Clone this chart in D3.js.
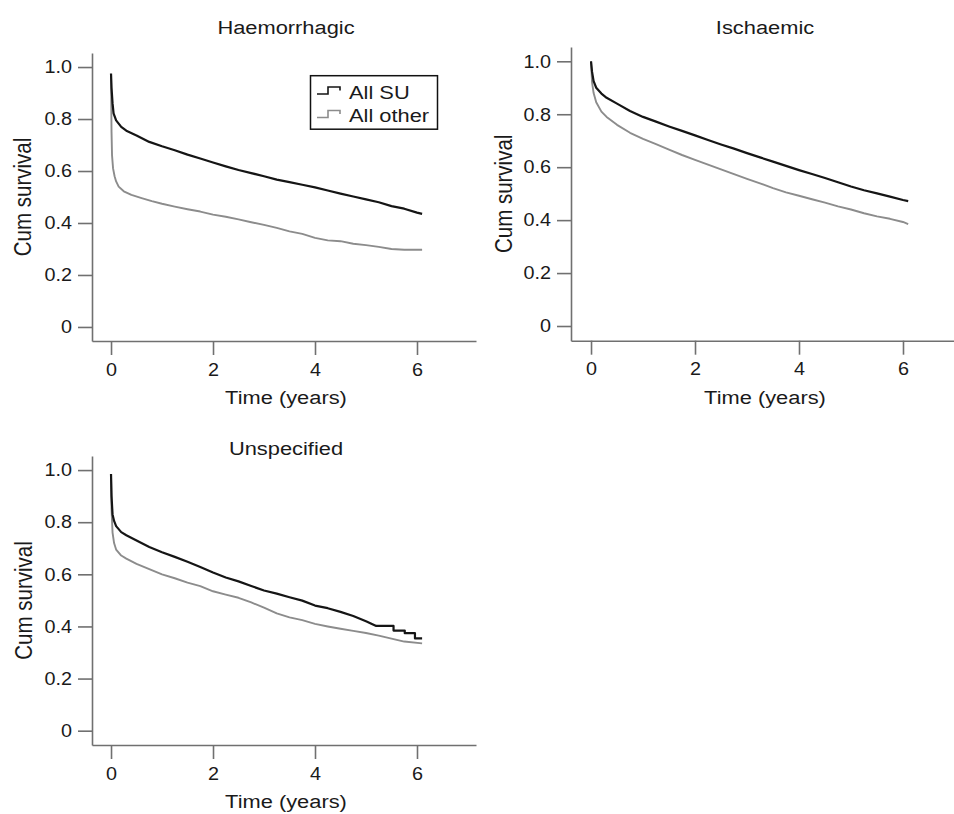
<!DOCTYPE html>
<html>
<head>
<meta charset="utf-8">
<script src="https://cdn.jsdelivr.net/npm/d3@7"></script>
<style>
  body { margin: 0; background: #fff; }
  text { font-family: "Liberation Sans", Arial, sans-serif; fill: #1a1a1a; }
</style>
</head>
<body>
<script>
// Kaplan-Meier estimates: [time in years, cumulative survival]
const haemSU = [[0,0.975],[0.01,0.92],[0.03,0.86],[0.05,0.822],[0.1,0.795],[0.2,0.77],[0.3,0.755],
  [0.5,0.737],[0.75,0.712],[1,0.695],[1.25,0.68],[1.5,0.663],[1.75,0.648],[2,0.633],[2.25,0.618],
  [2.5,0.604],[2.75,0.592],[3,0.58],[3.25,0.567],[3.5,0.557],[3.75,0.547],[4,0.537],[4.25,0.525],
  [4.5,0.513],[4.75,0.502],[5,0.491],[5.25,0.48],[5.5,0.465],[5.75,0.455],[6,0.44],[6.1,0.435]];
const haemOther = [[0,0.97],[0.01,0.75],[0.02,0.66],[0.04,0.61],[0.07,0.58],[0.1,0.56],[0.15,0.54],
  [0.25,0.522],[0.4,0.508],[0.6,0.496],[0.8,0.484],[1,0.474],[1.25,0.463],[1.5,0.453],[1.75,0.444],
  [2,0.432],[2.25,0.424],[2.5,0.414],[2.75,0.403],[3,0.393],[3.25,0.381],[3.5,0.368],[3.75,0.358],
  [4,0.343],[4.25,0.333],[4.5,0.33],[4.75,0.32],[5,0.315],[5.25,0.308],[5.5,0.3],[5.75,0.297],[6.1,0.297]];

const ischSU = [[0,1],[0.02,0.96],[0.05,0.925],[0.1,0.9],[0.2,0.878],[0.3,0.862],[0.5,0.84],
  [0.75,0.812],[1,0.79],[1.25,0.772],[1.5,0.754],[1.75,0.737],[2,0.72],[2.25,0.703],[2.5,0.686],
  [2.75,0.67],[3,0.653],[3.25,0.637],[3.5,0.621],[3.75,0.605],[4,0.589],[4.25,0.574],[4.5,0.559],
  [4.75,0.543],[5,0.527],[5.25,0.513],[5.5,0.501],[5.75,0.489],[6,0.476],[6.1,0.472]];
const ischOther = [[0,1],[0.02,0.92],[0.05,0.88],[0.1,0.845],[0.2,0.81],[0.3,0.79],[0.5,0.76],
  [0.75,0.73],[1,0.707],[1.25,0.687],[1.5,0.666],[1.75,0.646],[2,0.628],[2.25,0.61],[2.5,0.592],
  [2.75,0.574],[3,0.556],[3.25,0.539],[3.5,0.521],[3.75,0.505],[4,0.492],[4.25,0.479],[4.5,0.466],
  [4.75,0.452],[5,0.44],[5.25,0.426],[5.5,0.414],[5.75,0.405],[6,0.393],[6.1,0.385]];

const unspSU = [[0,0.985],[0.01,0.9],[0.03,0.83],[0.06,0.805],[0.1,0.785],[0.2,0.762],[0.3,0.75],
  [0.5,0.73],[0.75,0.705],[1,0.685],[1.25,0.667],[1.5,0.648],[1.75,0.628],[2,0.607],[2.25,0.588],
  [2.5,0.573],[2.75,0.555],[3,0.538],[3.25,0.526],[3.5,0.512],[3.75,0.499],[4,0.48],[4.25,0.47],
  [4.5,0.456],[4.75,0.44],[5,0.42],[5.2,0.402],[5.54,0.402],[5.54,0.384],[5.76,0.384],[5.76,0.374],
  [5.96,0.374],[5.96,0.354],[6.1,0.354]];
const unspOther = [[0,0.98],[0.01,0.85],[0.03,0.76],[0.06,0.72],[0.1,0.695],[0.2,0.672],[0.3,0.66],
  [0.5,0.64],[0.75,0.62],[1,0.6],[1.25,0.585],[1.5,0.568],[1.75,0.555],[2,0.535],[2.25,0.522],
  [2.5,0.51],[2.75,0.492],[3,0.472],[3.25,0.45],[3.5,0.435],[3.75,0.424],[4,0.41],[4.25,0.4],
  [4.5,0.391],[4.75,0.383],[5,0.375],[5.25,0.365],[5.5,0.353],[5.75,0.342],[6.1,0.335]];

const xTicks = [0, 2, 4, 6];
const yTicks = [0, 0.2, 0.4, 0.6, 0.8, 1.0];
const seriesNames = ["All SU", "All other"];
const seriesColors = ["#151515", "#8c8c8c"];

const width = 954;
const height = 814;
const stretch = 1.15; // the figure is a little wider than tall

const panels = [
  { title: "Haemorrhagic", data: [haemSU, haemOther], xr: [92, 476], yr: [341, 53],
    xd: [-0.373, 7.157], yd: [-0.054, 1.054], titleY: 34, xlabY: 404, ylabX: 31, legend: true },
  { title: "Ischaemic", data: [ischSU, ischOther], xr: [571, 954], yr: [340.7, 47],
    xd: [-0.385, 6.981], yd: [-0.0555, 1.054], titleY: 34, xlabY: 404, ylabX: 511.5 },
  { title: "Unspecified", data: [unspSU, unspOther], xr: [92, 476], yr: [745, 456],
    xd: [-0.373, 7.157], yd: [-0.0549, 1.054], titleY: 455, xlabY: 808, ylabX: 31.5 }
];

const svg = d3.select("body").append("svg")
  .attr("width", width)
  .attr("height", height);

function widen(sel, k) {
  sel.each(function () {
    const t = d3.select(this);
    const x = +t.attr("x") || 0;
    const y = +t.attr("y") || 0;
    t.attr("x", null).attr("y", null)
      .attr("transform", `translate(${x},${y}) scale(${k},1)`);
  });
}

panels.forEach((p) => {
  const x = d3.scaleLinear().domain(p.xd).range(p.xr);
  const y = d3.scaleLinear().domain(p.yd).range(p.yr);
  const g = svg.append("g");

  const xAxis = g.append("g")
    .attr("transform", `translate(0,${p.yr[0]})`)
    .call(d3.axisBottom(x).tickValues(xTicks).tickFormat(d3.format("d"))
      .tickSize(14).tickSizeOuter(0).tickPadding(8));
  const yAxis = g.append("g")
    .attr("transform", `translate(${p.xr[0]},0)`)
    .call(d3.axisLeft(y).tickValues(yTicks)
      .tickFormat((d) => (d === 0 ? "0" : d3.format(".1f")(d)))
      .tickSize(14).tickSizeOuter(0).tickPadding(6));

  [xAxis, yAxis].forEach((a) => {
    a.select(".domain").attr("stroke", "#707070").attr("stroke-width", 1.6);
    a.selectAll(".tick line").attr("stroke", "#707070").attr("stroke-width", 1.6);
    a.selectAll(".tick text")
      .attr("fill", "#1a1a1a")
      .style("font-size", "18px");
    a.attr("font-family", null).attr("font-size", null);
    widen(a.selectAll(".tick text"), 1.1);
  });

  const line = d3.line()
    .x((d) => x(d[0]))
    .y((d) => y(d[1]));

  // grey first, black on top
  p.data.slice().reverse().forEach((s, i) => {
    const idx = p.data.length - 1 - i;
    g.append("path")
      .datum(s)
      .attr("fill", "none")
      .attr("stroke", seriesColors[idx])
      .attr("stroke-width", idx === 0 ? 2.2 : 1.9)
      .attr("stroke-linejoin", "round")
      .attr("d", line);
  });

  const midX = p.xr[0] + (476 - 92) / 2 + 2;

  g.append("text")
    .attr("x", midX)
    .attr("y", p.titleY)
    .attr("text-anchor", "middle")
    .style("font-size", "19px")
    .text(p.title)
    .call(widen, stretch);

  g.append("text")
    .attr("x", midX)
    .attr("y", p.xlabY)
    .attr("text-anchor", "middle")
    .style("font-size", "19px")
    .text("Time (years)")
    .call(widen, stretch);

  const midY = (p.yr[0] + p.yr[1]) / 2;
  g.append("text")
    .attr("text-anchor", "middle")
    .attr("transform", `translate(${p.ylabX},${midY}) scale(${stretch},1) rotate(-90)`)
    .style("font-size", "20.5px")
    .text("Cum survival");

  if (p.legend) {
    const lg = g.append("g");
    lg.append("rect")
      .attr("x", 310.5).attr("y", 75.7)
      .attr("width", 127).attr("height", 53.5)
      .attr("fill", "#fff")
      .attr("stroke", "#111")
      .attr("stroke-width", 1.5);
    seriesNames.forEach((name, i) => {
      const base = 94 + i * 23.5;
      lg.append("path")
        .attr("d", `M317,${base} H328 V${base - 7} H340 V${base - 3.5}`)
        .attr("fill", "none")
        .attr("stroke", seriesColors[i])
        .attr("stroke-width", 1.6);
      lg.append("text")
        .attr("x", 349)
        .attr("y", base + 4.5)
        .style("font-size", "19px")
        .text(name)
        .call(widen, stretch);
    });
  }
});
</script>
</body>
</html>
